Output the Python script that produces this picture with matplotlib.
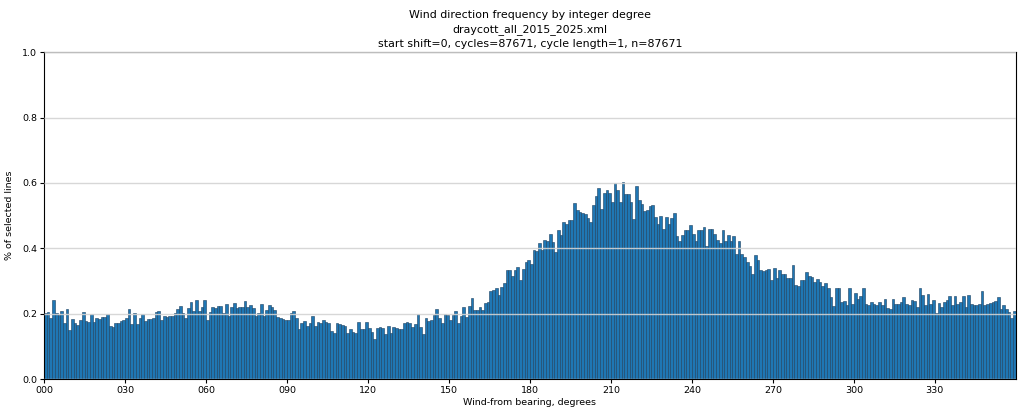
import numpy as np
import matplotlib
matplotlib.use("Agg")
import matplotlib.pyplot as plt

# percent of lines per integer degree in chunks
deg_000_059 = [0.201, 0.204, 0.187, 0.241, 0.201, 0.197, 0.209, 0.172, 0.213, 0.150,
               0.183, 0.172, 0.165, 0.180, 0.205, 0.177, 0.174, 0.199, 0.174, 0.187,
               0.183, 0.190, 0.190, 0.199, 0.162, 0.158, 0.172, 0.172, 0.177, 0.182,
               0.188, 0.215, 0.168, 0.201, 0.167, 0.187, 0.199, 0.178, 0.183, 0.185,
               0.188, 0.204, 0.209, 0.180, 0.192, 0.189, 0.193, 0.192, 0.203, 0.215,
               0.224, 0.203, 0.187, 0.218, 0.235, 0.208, 0.241, 0.208, 0.219, 0.241]
deg_060_115 = [0.182, 0.204, 0.219, 0.216, 0.223, 0.223, 0.203, 0.229, 0.192, 0.221,
               0.233, 0.216, 0.221, 0.221, 0.239, 0.219, 0.226, 0.216, 0.192, 0.201,
               0.229, 0.192, 0.211, 0.226, 0.219, 0.211, 0.190, 0.188, 0.185, 0.182,
               0.180, 0.201, 0.209, 0.188, 0.152, 0.170, 0.178, 0.162, 0.172, 0.192,
               0.162, 0.175, 0.172, 0.182, 0.175, 0.172, 0.148, 0.142, 0.172, 0.168,
               0.165, 0.162, 0.140, 0.152, 0.145, 0.142]
deg_116_179 = [0.175, 0.152, 0.152, 0.175, 0.155, 0.145, 0.121, 0.157, 0.158, 0.155,
               0.139, 0.162, 0.141, 0.160, 0.155, 0.152, 0.154, 0.172, 0.175, 0.172,
               0.160, 0.167, 0.200, 0.158, 0.137, 0.188, 0.178, 0.180, 0.195, 0.213,
               0.188, 0.172, 0.200, 0.195, 0.180, 0.195, 0.208, 0.170, 0.192, 0.219,
               0.190, 0.223, 0.249, 0.211, 0.211, 0.221, 0.211, 0.233, 0.236, 0.270,
               0.272, 0.277, 0.256, 0.282, 0.294, 0.335, 0.333, 0.314, 0.333, 0.343,
               0.302, 0.338, 0.358, 0.363]
deg_180_233 = [0.351, 0.394, 0.391, 0.416, 0.396, 0.424, 0.421, 0.445, 0.419, 0.389,
               0.457, 0.440, 0.480, 0.475, 0.488, 0.488, 0.539, 0.516, 0.511, 0.508,
               0.506, 0.494, 0.480, 0.531, 0.559, 0.584, 0.521, 0.569, 0.577, 0.569,
               0.541, 0.600, 0.579, 0.541, 0.603, 0.567, 0.565, 0.541, 0.490, 0.592,
               0.547, 0.534, 0.514, 0.516, 0.528, 0.531, 0.496, 0.473, 0.498, 0.460,
               0.496, 0.473, 0.494, 0.508]
deg_234_293 = [0.437, 0.422, 0.440, 0.457, 0.455, 0.472, 0.445, 0.422, 0.455, 0.457,
               0.465, 0.406, 0.460, 0.460, 0.445, 0.426, 0.416, 0.457, 0.422, 0.442,
               0.422, 0.437, 0.384, 0.422, 0.384, 0.372, 0.358, 0.345, 0.321, 0.379,
               0.363, 0.333, 0.331, 0.335, 0.338, 0.304, 0.341, 0.310, 0.333, 0.321,
               0.321, 0.310, 0.310, 0.350, 0.287, 0.284, 0.302, 0.302, 0.328, 0.315,
               0.312, 0.297, 0.307, 0.297, 0.284, 0.294, 0.277, 0.251, 0.223, 0.277]
deg_294_359 = [0.277, 0.236, 0.239, 0.228, 0.280, 0.231, 0.262, 0.246, 0.253, 0.280,
               0.231, 0.226, 0.236, 0.231, 0.226, 0.236, 0.226, 0.246, 0.216, 0.214,
               0.246, 0.231, 0.231, 0.236, 0.251, 0.231, 0.226, 0.241, 0.239, 0.219,
               0.280, 0.256, 0.226, 0.260, 0.231, 0.241, 0.203, 0.233, 0.219, 0.236,
               0.241, 0.253, 0.226, 0.253, 0.231, 0.236, 0.253, 0.221, 0.256, 0.231,
               0.226, 0.228, 0.231, 0.270, 0.226, 0.231, 0.233, 0.236, 0.239, 0.251,
               0.213, 0.228, 0.213, 0.206, 0.187, 0.208]

pct = np.array(deg_000_059 + deg_060_115 + deg_116_179 +
               deg_180_233 + deg_234_293 + deg_294_359)
degrees = np.arange(len(pct))

tick_pos = np.arange(0, 360, 30)
tick_labels = ["%03d" % t for t in tick_pos]

fig = plt.figure(figsize=(10.24, 4.17), dpi=100)
ax = fig.add_axes([0.043, 0.091, 0.949, 0.784])

ax.bar(degrees, pct, width=1.0, align="edge", color="#1f77b4",
       edgecolor="#1b3f5e", linewidth=0.4)

ax.set_xlim(0, 360)
ax.set_ylim(0, 1.0)
ax.set_xticks(tick_pos)
ax.set_xticklabels(tick_labels)
ax.set_yticks(np.arange(0, 1.01, 0.2))
ax.tick_params(labelsize=6.8, length=3, pad=2)
ax.yaxis.grid(True, color="#d3d3d3", linewidth=1.0, alpha=0.9)
ax.set_axisbelow(False)

ax.set_xlabel("Wind-from bearing, degrees", fontsize=6.8, labelpad=2)
ax.set_ylabel("% of selected lines", fontsize=6.8, labelpad=6)
ax.set_title("Wind direction frequency by integer degree\n"
             "draycott_all_2015_2025.xml\n"
             "start shift=0, cycles=87671, cycle length=1, n=87671",
             fontsize=7.9, linespacing=1.45, pad=4)

fig.savefig("out.png", dpi=100)
